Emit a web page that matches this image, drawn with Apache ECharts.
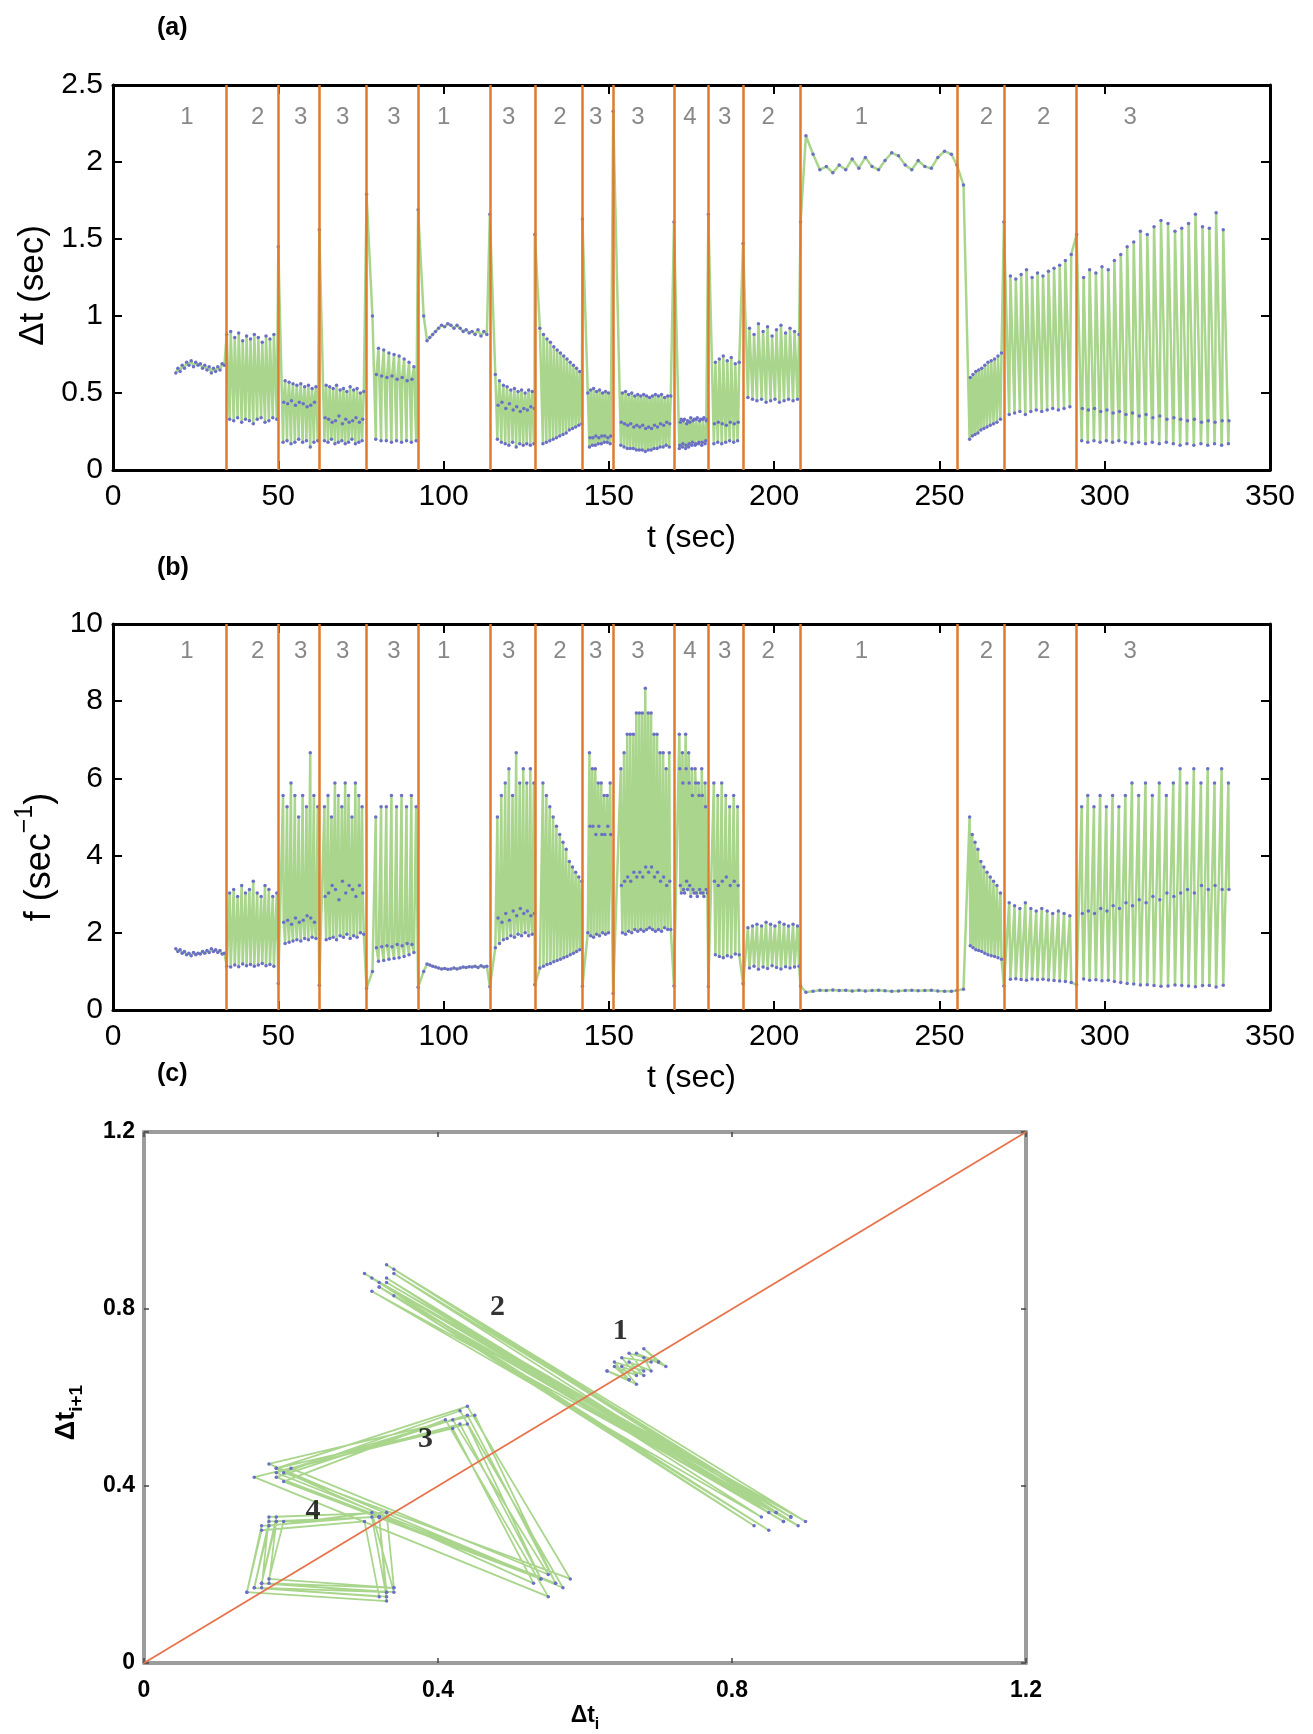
<!DOCTYPE html>
<html>
<head>
<meta charset="UTF-8">
<title>Interval series and return map</title>
<script src="https://cdn.jsdelivr.net/npm/echarts@6/dist/echarts.min.js"></script>
<style>
  body { margin: 0; background: #fff; }
  #chart { width: 1313px; height: 1734px; }
</style>
</head>
<body>
<div id="chart"></div>
<script>
// segment boundaries (orange lines), t in sec
var firstT = 19;
var boundaries = [34.4, 50, 62.4, 76.7, 92.3, 114, 127.6, 142, 151.3, 169.7, 180.1, 190.6, 208, 255.3, 269.5, 291.5];
var segLabels = ['1', '2', '3', '3', '3', '1', '3', '2', '3', '3', '4', '3', '2', '1', '2', '2', '3'];
var segLabelT = [22.4, 43.8, 56.8, 69.5, 85, 100, 119.7, 135.2, 146, 158.8, 174.5, 185, 198.2, 226.4, 264.2, 281.5, 307.7];

// successive intervals Δt (sec) in each segment
var seg1 = [0.63, 0.66, 0.64, 0.68, 0.66, 0.70, 0.68, 0.71, 0.67, 0.70, 0.68, 0.69, 0.66, 0.68, 0.65, 0.67, 0.63, 0.66, 0.64, 0.67, 0.65, 0.69, 0.68];
var seg2 = [0.88, 0.33, 0.90, 0.32, 0.86, 0.34, 0.89, 0.31, 0.84, 0.33, 0.87, 0.32, 0.85, 0.30, 0.88, 0.33, 0.86, 0.34, 0.83, 0.31, 0.87, 0.32, 0.85, 0.34, 0.88, 0.33];
var seg3 = [1.45, 0.18, 0.44, 0.58, 0.19, 0.43, 0.57, 0.17, 0.45, 0.56, 0.18, 0.42, 0.55, 0.20, 0.44, 0.56, 0.18, 0.43, 0.54, 0.19, 0.41, 0.55, 0.15, 0.42, 0.53, 0.18, 0.44, 0.54, 0.19];
var seg4 = [1.56, 0.19, 0.34, 0.55, 0.18, 0.33, 0.54, 0.20, 0.31, 0.53, 0.17, 0.32, 0.55, 0.18, 0.35, 0.52, 0.19, 0.30, 0.53, 0.17, 0.33, 0.51, 0.18, 0.31, 0.54, 0.20, 0.32, 0.52, 0.17, 0.34, 0.53, 0.18, 0.31, 0.50, 0.19, 0.33, 0.51];
var seg5 = [1.79, 1.00, 0.20, 0.62, 0.79, 0.19, 0.61, 0.78, 0.19, 0.60, 0.76, 0.18, 0.61, 0.75, 0.19, 0.59, 0.74, 0.18, 0.60, 0.72, 0.19, 0.58, 0.70, 0.18, 0.59, 0.67, 0.19];
var seg6 = [1.69, 1.00, 0.84, 0.86, 0.88, 0.90, 0.92, 0.94, 0.93, 0.95, 0.94, 0.92, 0.94, 0.92, 0.90, 0.91, 0.89, 0.90, 0.88, 0.91, 0.87, 0.90, 0.88];
var seg7 = [1.66, 0.62, 0.20, 0.42, 0.58, 0.18, 0.44, 0.55, 0.17, 0.40, 0.54, 0.16, 0.43, 0.52, 0.18, 0.39, 0.53, 0.15, 0.41, 0.51, 0.17, 0.38, 0.52, 0.16, 0.40, 0.50, 0.17, 0.39, 0.52, 0.16, 0.41, 0.51, 0.17, 0.40];
var seg8 = [1.53, 0.92, 0.17, 0.88, 0.18, 0.85, 0.19, 0.83, 0.20, 0.80, 0.21, 0.78, 0.22, 0.76, 0.23, 0.74, 0.24, 0.72, 0.26, 0.70, 0.27, 0.68, 0.28, 0.66, 0.29, 0.64, 0.30];
var seg9 = [1.63, 0.50, 0.15, 0.21, 0.52, 0.16, 0.21, 0.53, 0.16, 0.22, 0.51, 0.17, 0.21, 0.52, 0.17, 0.22, 0.50, 0.18, 0.22, 0.51, 0.18, 0.21, 0.50, 0.17, 0.22];
var seg10 = [2.33, 0.16, 0.31, 0.50, 0.15, 0.30, 0.51, 0.14, 0.29, 0.49, 0.14, 0.30, 0.50, 0.14, 0.28, 0.48, 0.13, 0.29, 0.49, 0.13, 0.28, 0.48, 0.13, 0.29, 0.49, 0.12, 0.27, 0.48, 0.13, 0.28, 0.47, 0.13, 0.27, 0.48, 0.14, 0.29, 0.49, 0.14, 0.28, 0.48, 0.15, 0.30, 0.49, 0.15, 0.29, 0.47, 0.16, 0.31, 0.48, 0.15, 0.30, 0.48];
var seg11 = [1.61, 0.14, 0.16, 0.31, 0.33, 0.15, 0.17, 0.32, 0.33, 0.14, 0.16, 0.30, 0.32, 0.15, 0.17, 0.31, 0.34, 0.16, 0.18, 0.32, 0.33, 0.16, 0.17, 0.33, 0.34, 0.17, 0.18, 0.32, 0.33, 0.16, 0.18, 0.33, 0.34, 0.17, 0.19, 0.32, 0.33];
var seg12 = [1.66, 0.17, 0.30, 0.70, 0.18, 0.31, 0.72, 0.17, 0.30, 0.74, 0.18, 0.29, 0.71, 0.19, 0.31, 0.73, 0.18, 0.30, 0.69, 0.19, 0.31, 0.70];
var seg13 = [1.47, 0.47, 0.92, 0.46, 0.88, 0.45, 0.95, 0.46, 0.90, 0.44, 0.93, 0.45, 0.87, 0.46, 0.91, 0.44, 0.94, 0.45, 0.89, 0.46, 0.92, 0.45, 0.90, 0.46, 0.88];
var seg14 = [1.61, 2.17, 2.05, 1.95, 1.97, 1.93, 1.98, 1.95, 2.02, 1.96, 2.03, 1.97, 1.95, 2.01, 2.06, 2.04, 1.98, 1.95, 2.01, 1.97, 1.96, 2.03, 2.07, 2.05];
var seg15 = [1.98, 1.85, 0.20, 0.60, 0.22, 0.62, 0.23, 0.64, 0.24, 0.65, 0.26, 0.66, 0.27, 0.68, 0.28, 0.70, 0.29, 0.71, 0.30, 0.72, 0.31, 0.74, 0.33, 0.76];
var seg16 = [1.61, 0.36, 1.26, 0.37, 1.24, 0.38, 1.27, 0.36, 1.30, 0.38, 1.25, 0.39, 1.28, 0.38, 1.26, 0.39, 1.29, 0.40, 1.31, 0.39, 1.33, 0.40, 1.36, 0.41, 1.40];
var seg17 = [1.53, 0.19, 0.40, 1.25, 0.18, 0.39, 1.30, 0.19, 0.40, 1.28, 0.18, 0.38, 1.32, 0.19, 0.39, 1.30, 0.18, 0.37, 1.36, 0.19, 0.38, 1.40, 0.18, 0.36, 1.45, 0.17, 0.37, 1.48, 0.18, 0.35, 1.55, 0.17, 0.36, 1.53, 0.18, 0.34, 1.58, 0.17, 0.35, 1.62, 0.18, 0.33, 1.60, 0.17, 0.34, 1.55, 0.16, 0.33, 1.57, 0.17, 0.32, 1.60, 0.16, 0.33, 1.66, 0.17, 0.31, 1.58, 0.16, 0.32, 1.57, 0.17, 0.31, 1.67, 0.16, 0.32, 1.56, 0.17, 0.32];

var segments = [seg1, seg2, seg3, seg4, seg5, seg6, seg7, seg8, seg9, seg10, seg11, seg12, seg13, seg14, seg15, seg16, seg17];

// return map (c): which segments, and where its numbers go
var mapSegments = [0, 1, 2, 10];
var mapLabels = ['1', '2', '3', '4'];
var mapLabelX = [0.648, 0.481, 0.383, 0.230];
var mapLabelY = [0.749, 0.804, 0.506, 0.344];

// point times: each segment starts at its boundary, t grows by Δt
var starts = [firstT].concat(boundaries);
var dtPoints = [];
segments.forEach(function (seg, k) {
  var t = starts[k];
  seg.forEach(function (d) {
    dtPoints.push([t, d]);
    t += d;
  });
});
// panel (b) is the rate f = 1/Δt of the same points
var fPoints = dtPoints.map(function (p) { return [p[0], 1 / p[1]]; });

var green = '#a9d68c';
var blue = '#6b70c6';
var orange = '#e07a2c';
var sans = '"Liberation Sans", Arial, Helvetica, sans-serif';
var serif = '"Liberation Serif", "Times New Roman", serif';

var frameAB = { color: '#000', width: 3, tick: 9, tickColor: '#000', tickWidth: 2 };
var frameC = { color: '#9c9c9c', width: 4, tick: 5, tickColor: '#444', tickWidth: 1.5 };

function axis(grid, min, max, step, pos, frame, label, extra) {
  var o = {
    type: 'value', gridIndex: grid, position: pos,
    min: min, max: max, interval: step,
    axisLine: { show: true, onZero: false, lineStyle: { color: frame.color, width: frame.width } },
    axisTick: { show: true, inside: true, length: frame.tick, lineStyle: { color: frame.tickColor, width: frame.tickWidth } },
    axisLabel: label || { show: false },
    splitLine: { show: false }
  };
  if (extra) Object.assign(o, extra);
  return o;
}

function bigLabel(margin) {
  return { show: true, fontSize: 30, fontFamily: sans, color: '#000', margin: margin, showMinLabel: true, showMaxLabel: true };
}
var smallLabel = { show: true, fontSize: 23, fontWeight: 'bold', fontFamily: sans, color: '#000', margin: 9, showMinLabel: true, showMaxLabel: true };
var smallLabelX = Object.assign({}, smallLabel, { margin: 16 });

var tName = { name: 't (sec)', nameLocation: 'middle', nameGap: 52, nameTextStyle: { fontSize: 32, fontFamily: sans, color: '#000' } };

function boundarySeries(xi, yi) {
  return {
    type: 'line', xAxisIndex: xi, yAxisIndex: yi, data: [], z: 4, silent: true,
    markLine: {
      silent: true, symbol: ['none', 'none'], label: { show: false },
      lineStyle: { color: orange, width: 2.5, type: 'solid', opacity: 1 },
      data: boundaries.map(function (b) { return { xAxis: b }; })
    }
  };
}

function segLabelSeries(xi, yi, y) {
  return {
    type: 'scatter', xAxisIndex: xi, yAxisIndex: yi, symbolSize: 1, silent: true, z: 5,
    itemStyle: { color: 'rgba(0,0,0,0)' },
    data: segLabelT.map(function (t, i) { return { name: segLabels[i], value: [t, y] }; }),
    label: { show: true, position: 'inside', formatter: '{b}', fontSize: 24, fontFamily: sans, color: '#6a6a6a' }
  };
}

function pointSeries(xi, yi, data) {
  return {
    type: 'line', xAxisIndex: xi, yAxisIndex: yi, data: data, z: 2, silent: true,
    symbol: 'circle', symbolSize: 3.5, showSymbol: true,
    lineStyle: { color: green, width: 2.5 },
    itemStyle: { color: blue }
  };
}

var mapSeries = mapSegments.map(function (k) {
  var v = segments[k].filter(function (d) { return d <= 1.2; });
  var pts = [];
  for (var i = 0; i + 1 < v.length; i++) pts.push([v[i], v[i + 1]]);
  return {
    type: 'line', xAxisIndex: 4, yAxisIndex: 4, data: pts, z: 2, silent: true,
    symbol: 'circle', symbolSize: 3.5, showSymbol: true,
    lineStyle: { color: green, width: 1.8 },
    itemStyle: { color: blue }
  };
});

var chart = echarts.init(document.getElementById('chart'));
chart.setOption({
  animation: false,
  backgroundColor: '#fff',
  title: [
    { text: '(a)', left: 152, top: 11, textStyle: { fontSize: 25, fontWeight: 'bold', fontFamily: sans, color: '#000' } },
    { text: '(b)', left: 152, top: 551, textStyle: { fontSize: 25, fontWeight: 'bold', fontFamily: sans, color: '#000' } },
    { text: '(c)', left: 152, top: 1057, textStyle: { fontSize: 25, fontWeight: 'bold', fontFamily: sans, color: '#000' } }
  ],
  grid: [
    { left: 113, top: 85, width: 1157, height: 385 },
    { left: 113, top: 624, width: 1157, height: 386 },
    { left: 144, top: 1132, width: 882, height: 548 }
  ],
  xAxis: [
    axis(0, 0, 350, 50, 'bottom', frameAB, bigLabel(12), tName),
    axis(0, 0, 350, 50, 'top', frameAB),
    axis(1, 0, 350, 50, 'bottom', frameAB, bigLabel(12), tName),
    axis(1, 0, 350, 50, 'top', frameAB),
    axis(2, 0, 1.2, 0.4, 'bottom', frameC, smallLabelX, {
      name: '{n|Δt}{s|i}', nameLocation: 'middle', nameGap: 36,
      nameTextStyle: {
        rich: {
          n: { fontSize: 23, fontWeight: 'bold', fontFamily: sans, color: '#000', lineHeight: 34 },
          s: { fontSize: 16, fontWeight: 'bold', fontFamily: sans, color: '#000', lineHeight: 16, verticalAlign: 'bottom' }
        }
      }
    }),
    axis(2, 0, 1.2, 0.4, 'top', frameC)
  ],
  yAxis: [
    axis(0, 0, 2.5, 0.5, 'left', frameAB, bigLabel(10), {
      name: 'Δt (sec)', nameLocation: 'middle', nameRotate: 90, nameGap: 60,
      nameTextStyle: { fontSize: 35, fontFamily: sans, color: '#000', padding: [0, 16, 0, 0] }
    }),
    axis(0, 0, 2.5, 0.5, 'right', frameAB),
    axis(1, 0, 10, 2, 'left', frameAB, bigLabel(10), {
      name: '{n|f (sec}{s|−1}{n|)}', nameLocation: 'middle', nameRotate: 90, nameGap: 46,
      nameTextStyle: {
        padding: [0, 80, 0, 0],
        rich: {
          n: { fontSize: 36, fontFamily: sans, color: '#000', lineHeight: 54 },
          s: { fontSize: 25, fontFamily: sans, color: '#000', lineHeight: 25, verticalAlign: 'top' }
        }
      }
    }),
    axis(1, 0, 10, 2, 'right', frameAB),
    axis(2, 0, 1.2, 0.4, 'left', frameC, smallLabel, {
      name: '{n|Δt}{s|i+1}', nameLocation: 'middle', nameRotate: 90, nameGap: 58,
      nameTextStyle: {
        padding: [0, 30, 0, 0],
        rich: {
          n: { fontSize: 27, fontWeight: 'bold', fontFamily: sans, color: '#000', lineHeight: 38 },
          s: { fontSize: 19, fontWeight: 'bold', fontFamily: sans, color: '#000', lineHeight: 19, verticalAlign: 'bottom' }
        }
      }
    }),
    axis(2, 0, 1.2, 0.4, 'right', frameC)
  ],
  series: [
    pointSeries(0, 0, dtPoints),
    boundarySeries(0, 0),
    segLabelSeries(0, 0, 2.29),
    pointSeries(2, 2, fPoints),
    boundarySeries(2, 2),
    segLabelSeries(2, 2, 9.3),
    {
      type: 'line', xAxisIndex: 4, yAxisIndex: 4, data: [[0, 0], [1.2, 1.2]], z: 3, silent: true,
      symbol: 'none', lineStyle: { color: '#e8734a', width: 1.8 }
    }
  ].concat(mapSeries).concat([
    {
      type: 'scatter', xAxisIndex: 4, yAxisIndex: 4, symbolSize: 1, silent: true, z: 5,
      itemStyle: { color: 'rgba(0,0,0,0)' },
      data: mapLabels.map(function (s, i) { return { name: s, value: [mapLabelX[i], mapLabelY[i]] }; }),
      label: { show: true, position: 'inside', formatter: '{b}', fontSize: 30, fontWeight: 'bold', fontFamily: serif, color: '#000' }
    }
  ])
});
</script>
</body>
</html>
